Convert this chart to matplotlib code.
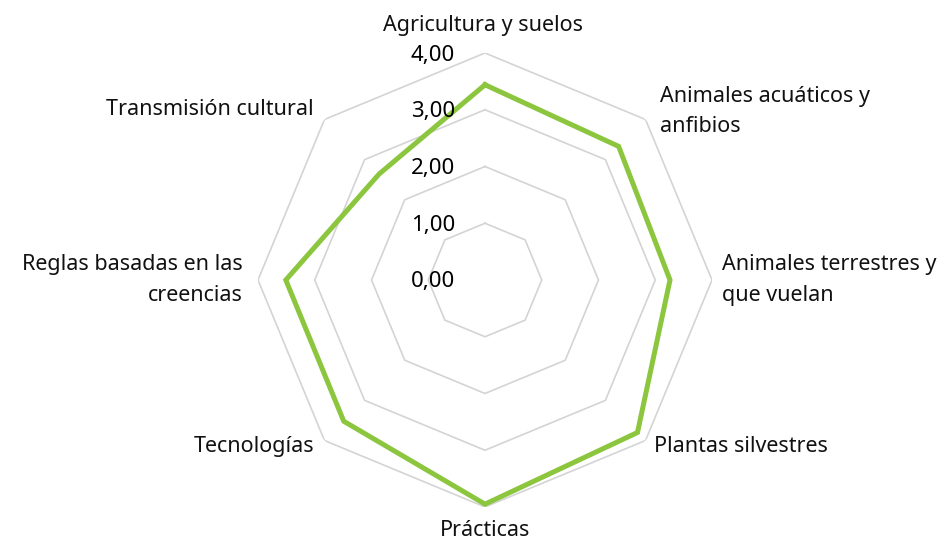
import numpy as np
import matplotlib
matplotlib.use("Agg")
import matplotlib.pyplot as plt

categories = ["Agricultura y suelos", "Animales acuáticos y\nanfibios",
              "Animales terrestres y\nque vuelan", "Plantas silvestres",
              "Prácticas", "Tecnologías", "Reglas basadas en las\ncreencias",
              "Transmisión cultural"]
values = [3.44, 3.33, 3.26, 3.80, 3.95, 3.52, 3.51, 2.64]
ring_values = [1, 2, 3, 4]
tick_labels = ["0,00", "1,00", "2,00", "3,00", "4,00"]
tick_values = [0, 1, 2, 3, 4]

plt.rcParams['font.family'] = ['Noto Sans', 'DejaVu Sans']

W, H = 948, 542
fig = plt.figure(figsize=(W / 100, H / 100), dpi=100)
cx, cy, R = 485, 280, 227
ax = fig.add_axes([(cx - R) / W, (H - cy - R) / H, 2 * R / W, 2 * R / H], projection='polar')
ax.set_theta_zero_location('N')
ax.set_theta_direction(-1)
ax.set_ylim(0, 4)
ax.grid(False)
ax.spines['polar'].set_visible(False)
ax.set_xticks([])
ax.set_yticks([])
ax.patch.set_alpha(0)

n = len(categories)
theta = np.arange(n) * 2 * np.pi / n
theta_c = np.append(theta, theta[0])

for rv in ring_values:
    ax.plot(theta_c, [rv] * (n + 1), color='#d4d4d4', lw=1.2, zorder=1)

vals_c = np.append(values, values[0])
ax.plot(theta_c, vals_c, color='#8cc63e', lw=3.6, zorder=3, solid_joinstyle='miter')

# radial tick labels
for tv, tl in zip(tick_values, tick_labels):
    t = ax.annotate(tl, xy=(0, tv), xytext=(-30, -2), textcoords='offset pixels',
                    ha='right', va='center', fontsize=16,
                    color='#000000', zorder=4)
    t.set_path_effects([])

# category labels: offsets in pixels, alignment
offsets = [(-2, 28, 'center'), (14, 8, 'left'), (10, 0, 'left'), (8, -6, 'left'),
           (0, -23, 'center'), (-10, -6, 'right'), (-15, 0, 'right'), (-11, 10, 'right')]
for t, lab, (dx, dy, ha) in zip(theta, categories, offsets):
    ax.annotate(lab, xy=(t, 4), xytext=(dx, dy), textcoords='offset pixels',
                ha=ha, va='center', fontsize=15.5, color='#111111',
                linespacing=1.6, annotation_clip=False)

fig.savefig("out.png", dpi=100)
